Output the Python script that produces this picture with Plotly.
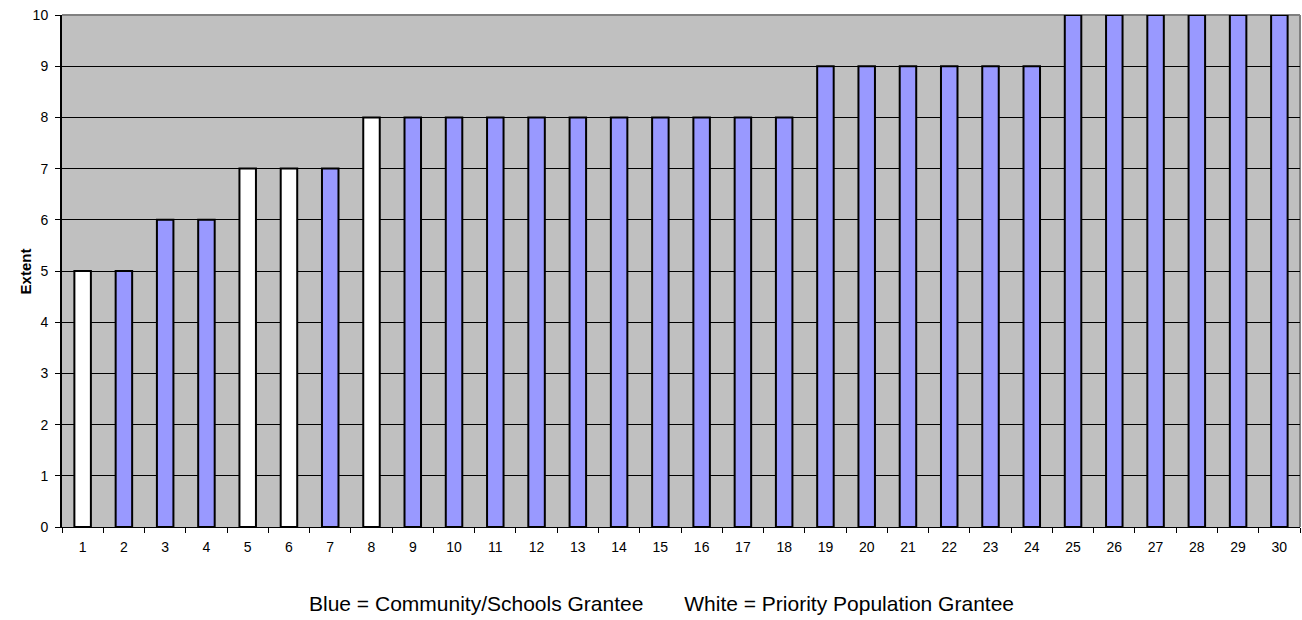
import plotly.graph_objects as go

categories = [str(i) for i in range(1, 31)]
values = [5, 5, 6, 6, 7, 7, 7, 8, 8, 8, 8, 8, 8, 8, 8, 8, 8, 8,
          9, 9, 9, 9, 9, 9, 10, 10, 10, 10, 10, 10]
grantee = ["P", "C", "C", "C", "P", "P", "C", "P"] + ["C"] * 22
y_ticks = list(range(0, 11))

color_map = {"C": "#9999FF", "P": "#FFFFFF"}
colors = [color_map[g] for g in grantee]

fig = go.Figure()
fig.add_trace(go.Bar(
    x=categories, y=values,
    marker=dict(color=colors, line=dict(color="#000000", width=2)),
    width=0.4,
    cliponaxis=False,
    showlegend=False,
))

fig.update_layout(
    width=1302, height=620,
    margin=dict(l=62, r=2, t=15, b=93),
    paper_bgcolor="#FFFFFF",
    plot_bgcolor="#C0C0C0",
    font=dict(family="Liberation Sans, Arial, sans-serif", color="#000000", size=14),
    xaxis=dict(
        type="category",
        range=[-0.5, 29.5],
        showline=True, linecolor="#000000", linewidth=1,
        ticks="outside", tickson="boundaries", ticklen=5, tickcolor="#000000",
        showgrid=False,
        tickfont=dict(size=14),
        ticklabelstandoff=7,
    ),
    yaxis=dict(
        range=[0, 10],
        tickvals=y_ticks,
        showline=True, linecolor="#000000", linewidth=2,
        ticks="outside", ticklen=5, tickcolor="#000000",
        showgrid=True, gridcolor="#000000", gridwidth=1,
        zeroline=False,
        tickfont=dict(size=14),
        ticklabelstandoff=4,
    ),
    bargap=0.6,
)

# grey top/right border of plot area
fig.add_shape(type="line", xref="paper", yref="paper", x0=0, x1=1, y0=1, y1=1,
              line=dict(color="#808080", width=2), layer="between")
fig.add_shape(type="line", xref="paper", yref="paper", x0=1, x1=1, y0=0, y1=1,
              line=dict(color="#808080", width=2), layer="between")

fig.add_annotation(text="<b>Extent</b>", xref="paper", yref="paper",
                   x=-0.038, y=0.5, textangle=-90, showarrow=False,
                   font=dict(size=15))
gap = "&nbsp;" * 7
fig.add_annotation(text="Blue = Community/Schools Grantee" + gap + "White = Priority Population Grantee",
                   xref="paper", yref="paper", x=0.4843, y=-0.150,
                   xanchor="center", yanchor="middle", showarrow=False,
                   font=dict(size=21))

fig.write_html("out.html", config={"displayModeBar": False},
               post_script="document.body.style.margin='0';document.body.style.padding='0';")
